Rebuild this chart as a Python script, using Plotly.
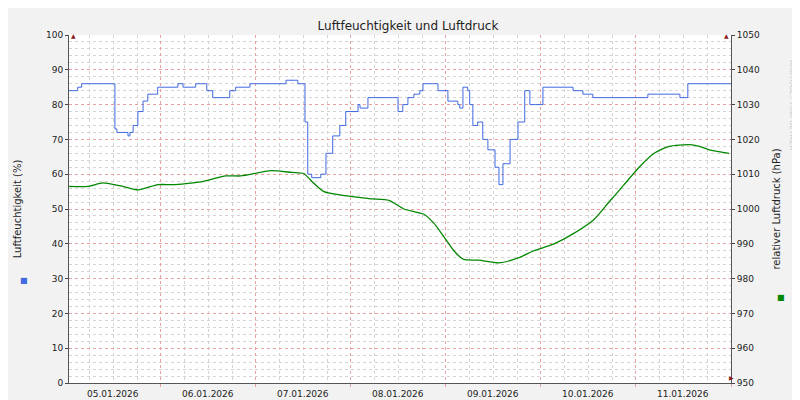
import plotly.graph_objects as go
from datetime import datetime, timedelta

start = datetime(2026, 1, 5)
hum_hours = [0.8,2.3,3,4,12.4,12.9,15.7,16.2,17,18.2,19.5,20.7,23.2,28.3,29.6,32.8,35.6,37.1,40.4,41.4,42.9,46.5,55.6,58.6,59.9,60.4,61.1,62.1,64.4,65.7,67.4,69.2,70.7,73.8,74.3,76.3,82.6,83.9,85.1,86.4,87.9,89.4,90.2,92.7,94,96.5,99,99.5,100.3,101.5,102,102.8,104,105.3,106.6,108.4,109.4,110.4,112.2,114.2,115.9,117.2,118.7,120.5,128.1,130.6,133.1,147,155.1,157.1,168]
hum_vals = [84,84,85,86,73,72,71,72,74,78,81,83,85,86,85,86,84,82,82,84,85,86,87,86,86,75,60,59,60,66,71,74,78,80,79,82,82,78,80,82,83,84,86,86,84,81,80,79,85,84,80,74,75,70,67,62,57,63,70,75,84,80,80,85,84,83,82,83,82,86,86]
pres_hours = [0.8,5.6,9.4,14.4,18.2,23.3,26.9,30.3,34.1,40.4,44.2,51.8,57.1,60.1,62.1,65.2,76.5,81.6,85.4,90.4,92.9,95.5,98,100.5,104.3,109.4,114.4,118.2,123.3,128.3,133.4,137.2,141,144.8,148.6,152.4,157.5,160,162.5,167.5]
pres_vals = [1006.5,1006.5,1007.5,1006.5,1005.5,1007,1007,1007.3,1007.8,1009.5,1009.5,1011,1010.5,1010.2,1008,1005,1003,1002.5,1000,998.5,996,992,988,985.5,985.3,984.5,986,988,990,993,997,1002,1007,1012,1016,1018,1018.5,1018,1017,1016]
day_labels = ["05.01.2026","06.01.2026","07.01.2026","08.01.2026","09.01.2026","10.01.2026","11.01.2026"]

def t(h):
    return start + timedelta(hours=h)

fig = go.Figure()
fig.add_trace(go.Scatter(x=[t(h) for h in hum_hours], y=hum_vals, mode="lines",
                         line=dict(color="#4169e1", width=1, shape="hv"), yaxis="y"))
fig.add_trace(go.Scatter(x=[t(h) for h in pres_hours], y=pres_vals, mode="lines",
                         line=dict(color="#008800", width=1.3, shape="spline", smoothing=0.6), yaxis="y2"))

grid_minor = dict(showgrid=True, gridcolor="#d4d4d4", griddash="dot", gridwidth=1)
fig.update_layout(
    width=800, height=400, margin=dict(l=61, r=77, t=27, b=25, autoexpand=False),
    paper_bgcolor="#f2f2f2", plot_bgcolor="white", showlegend=False,
    font=dict(family="DejaVu Sans", size=9, color="#222"),
    title=dict(text="Luftfeuchtigkeit und Luftdruck", x=0.5, xanchor="center", y=0.965, font=dict(size=12)),
    xaxis=dict(range=[t(0.8), t(168)], type="date", tick0=start, dtick=86400000, automargin=False,
               showticklabels=False, showgrid=True, gridcolor="#e8a0a0", griddash="dot",
               minor=dict(dtick=21600000, tick0=start, **grid_minor),
               ticks="outside", ticklen=3, tickcolor="#e8a0a0",
               showline=True, linecolor="#555", zeroline=False),
    yaxis=dict(range=[0, 100], dtick=10, showgrid=True, gridcolor="#e8a0a0", griddash="dot", automargin=False,
               minor=dict(dtick=2, **grid_minor), showline=True, linecolor="#555",
               ticks="outside", ticklen=3, zeroline=False,
               title=dict(text="Luftfeuchtigkeit (%)", standoff=22, font=dict(size=10))),
    yaxis2=dict(range=[950, 1050], dtick=10, overlaying="y", side="right", showgrid=False, automargin=False,
                showline=True, linecolor="#555", ticks="outside", ticklen=3, zeroline=False,
                title=dict(text="relativer Luftdruck (hPa)", standoff=14, font=dict(size=10))),
)
for i, lab in enumerate(day_labels):
    fig.add_annotation(x=t(24 * i + 12), y=0, xref="x", yref="paper", yshift=-4, text=lab,
                       showarrow=False, yanchor="top", font=dict(size=9))
pw, ph = 800 - 61 - 77, 400 - 27 - 25
def px(x, y):
    return (x - 61) / pw, (375 - y) / ph
for (x, y), c in [((10, 279), "#4169e1"), ((779, 296), "#008800")]:
    ax, ay = px(x, y)
    fig.add_annotation(x=ax, y=ay, xref="paper", yref="paper", text="■", showarrow=False, font=dict(color=c, size=8))
ax, ay = px(790, 50)
fig.add_annotation(x=ax, y=ay, xref="paper", yref="paper", text="RRDTOOL / TOBI OETIKER", textangle=90,
                   showarrow=False, font=dict(color="#c8c8c8", size=7))
for (x, y, s) in [(61, 22, "▲"), (723, 22, "▲"), (728, 375, "▶")]:
    ax, ay = px(x, y)
    fig.add_annotation(x=ax, y=ay, xref="paper", yref="paper", text=s, showarrow=False, font=dict(color="#8b1a1a", size=6))
fig.write_html("out.html")
